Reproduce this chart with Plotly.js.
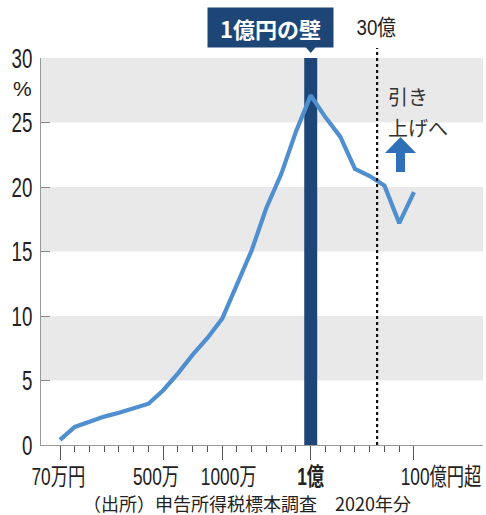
<!DOCTYPE html>
<html><head><meta charset="utf-8">
<script src="https://cdn.plot.ly/plotly-3.0.1.min.js"></script>
<style>html,body{margin:0;padding:0;background:#fff}</style>
</head><body>
<div id="chart" style="width:486px;height:515px"></div>
<script>
// income brackets (申告所得税標本調査 2020年分)
const categories = ['70万以下','100万','150万','200万','250万','300万','400万','500万','600万','700万','800万','1000万','1200万','1500万','2000万','3000万','5000万','1億','2億','5億','10億','20億','50億','100億','100億超'];
// 所得税負担率 (%)
const burdenRate = [0.4,1.4,1.8,2.2,2.5,2.85,3.2,4.25,5.55,7.0,8.3,9.8,12.5,15.1,18.4,21.0,24.3,27.1,25.4,23.9,21.4,20.85,20.1,17.2,19.6];
const tickCats = ['70万以下','500万','1000万','1億','100億超'];
const tickLabels = ['70万円','500万','1000万','<b>1億</b>','100億円超'];
const wallCat = '1億';
const wallValue = 30;
const yTicks = [0,5,10,15,20,25,30];

const idx = c => categories.indexOf(c);
const xs = categories.map((c,i)=>i);
const FONT = "'Liberation Sans','Noto Sans CJK JP',sans-serif";
const JP = "'Noto Sans CJK JP',sans-serif";
const xr = [-1.288, 28.68];
const W = 486, H = 515, ML = 41, MR = 3, MT = 58, MB = 70;
const pw = W-ML-MR, ph = H-MT-MB;
const px = p => (p-ML)/pw;          // pixel x -> paper
const py = p => (H-MB-p)/ph;        // pixel y -> paper
const xp = v => (v-xr[0])/(xr[1]-xr[0]);

// label centres (pixels) for the x tick labels
const tickLabelX = [58, 156, 228, 310.5, 441];

const shapes = [];
for (let b of [[5,10],[15,20],[25,30]]) {
  shapes.push({type:'rect', xref:'paper', yref:'y', x0:0, x1:1, y0:b[0], y1:b[1], fillcolor:'#e9e9e9', line:{width:0}, layer:'below'});
}
const x30 = xp(21.5);
shapes.push({type:'line', xref:'paper', yref:'paper', x0:x30, x1:x30, y0:0, y1:py(48), line:{color:'#111', width:2.2, dash:'dot'}});
const xw = xp(idx(wallCat));
const hw = 6/pw;
shapes.push({type:'path', xref:'paper', yref:'paper', path:`M ${xw-hw} ${py(46)} L ${xw+hw} ${py(46)} L ${xw} ${py(53)} Z`, fillcolor:'#1d4677', line:{width:0}});
const a = [[400.5,137],[385,153],[396,153],[396,172],[405,172],[405,153],[416,153]];
shapes.push({type:'path', xref:'paper', yref:'paper', path:'M '+a.map(p=>px(p[0])+' '+py(p[1])).join(' L ')+' Z', fillcolor:'#2f70b8', line:{width:0}});

const traces = [
  {type:'bar', x:[idx(wallCat)], y:[wallValue], width:0.88, marker:{color:'#1d4677', line:{width:0}}, hoverinfo:'skip'},
  {type:'scatter', mode:'lines', x:xs, y:burdenRate, line:{color:'#4f8fd0', width:4.2}, hoverinfo:'skip'}
];

const ann = (x, y, text, size, extra) => Object.assign({xref:'paper', yref:'paper', x:px(x), y:py(y), xanchor:'center', yanchor:'middle', text:text, showarrow:false, font:{family:FONT, size:size, color:'#222'}}, extra||{});

const annotations = [
  ann(270.5, 27.5, '<b>1億円の壁</b>', 22, {bgcolor:'#1d4677', font:{family:JP, size:22, color:'#fff'}, width:119, height:33, borderpad:3}),
  ann(376, 27, '30億', 22, {name:'c85'}),
  ann(22, 88, '%', 21),
  ann(386, 97, '引き', 20, {xanchor:'left', font:{family:JP, size:20, color:'#333'}}),
  ann(386, 128, '上げへ', 20, {xanchor:'left', font:{family:JP, size:20, color:'#333'}}),
  ann(247, 503, '（出所）申告所得税標本調査　2020年分', 18, {borderpad:0, font:{family:JP, size:18, color:'#222'}})
];
tickCats.forEach((c,i)=>annotations.push(ann(tickLabelX[i], 476, tickLabels[i], 24, {borderpad:0, name:'c72'})));

const layout = {
  width:W, height:H, margin:{l:ML, r:MR, t:MT, b:MB},
  paper_bgcolor:'#fff', plot_bgcolor:'rgba(0,0,0,0)',
  showlegend:false,
  font:{family:FONT, color:'#222', size:20},
  xaxis:{range:xr, tickmode:'array', tickvals:tickCats.map(idx), ticktext:tickLabels, showticklabels:false,
    ticks:'outside', ticklen:14, tickwidth:1, tickcolor:'#555',
    minor:{tickmode:'array', tickvals:xs, ticks:'outside', ticklen:6, tickwidth:1, tickcolor:'#555'},
    showline:true, linecolor:'#999', linewidth:1, showgrid:false, zeroline:false, fixedrange:true},
  yaxis:{range:[0,30], tickmode:'array', tickvals:yTicks, ticks:'inside', ticklen:9, tickwidth:1, tickcolor:'#888',
    showline:true, linecolor:'#999', linewidth:1, showgrid:false, zeroline:false,
    tickfont:{family:FONT, size:28, color:'#222'}, ticklabelstandoff:2, fixedrange:true},
  shapes:shapes,
  annotations:annotations
};

function condense(el, f, mode) {
  const b = el.getBBox();
  const cx = mode === 'end' ? b.x + b.width : b.x + b.width/2;
  const t = el.getAttribute('transform') || '';
  el.setAttribute('transform', (t + ` translate(${cx},0) scale(${f},1) translate(${-cx},0)`).trim());
}
Plotly.newPlot('chart', traces, layout, {displayModeBar:false, staticPlot:true}).then(gd => {
  gd.querySelectorAll('g.ytick text').forEach(el => condense(el, 0.67, 'end'));
  const annEls = gd.querySelectorAll('g.annotation');
  annEls.forEach((g, i) => {
    const n = annotations[i] && annotations[i].name;
    if (n === 'c72') g.querySelectorAll('text').forEach(el => condense(el, 0.72, 'mid'));
    if (n === 'c85') g.querySelectorAll('text').forEach(el => condense(el, 0.85, 'mid'));
  });
});
</script>
</body></html>
